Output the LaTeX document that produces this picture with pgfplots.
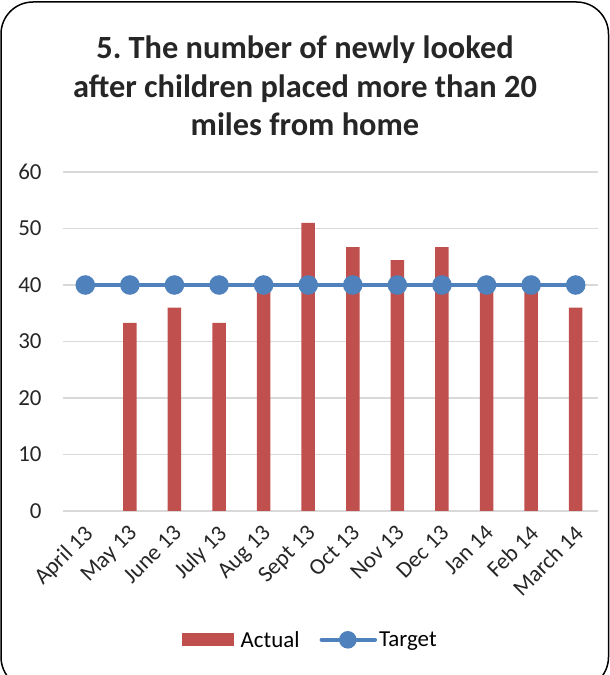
\documentclass[border=0pt]{standalone}
\usepackage{pgfplots}
\pgfplotsset{compat=1.18}
\usepackage{fontspec}
\setmainfont{Carlito}
\frenchspacing
\definecolor{barred}{HTML}{C0504D}
\definecolor{lineblue}{HTML}{4F81BD}
\definecolor{gridgray}{HTML}{D9D9D9}
\begin{document}
\begin{tikzpicture}
\path[use as bounding box] (0bp,0bp) rectangle (610bp,675bp);
\begin{scope}
\clip (0bp,0bp) rectangle (610bp,675bp);
\draw[line width=1.5bp, rounded corners=32bp] (1bp,-14bp) rectangle (608.5bp,673bp);
\end{scope}
\node[font=\bfseries\fontsize{32.5}{38.5}\selectfont, align=center, text=black!85] at (305bp,589bp) {5. The number of newly looked\\after children placed more than 20\\miles from home};
\begin{axis}[
  at={(63bp,164bp)}, anchor=south west,
  scale only axis, width=535bp, height=339bp,
  ymin=0, ymax=60, ytick={0,10,...,60},
  xmin=-0.5, xmax=11.5, xtick={0,...,11},
  xticklabels={April 13,May 13,June 13,July 13,Aug 13,Sept 13,Oct 13,Nov 13,Dec 13,Jan 14,Feb 14,March 14},
  /pgf/number format/assume math mode=true,
  ticklabel style={font=\fontsize{23}{25}\selectfont, text=black!85},
  x tick label style={rotate=45, anchor=north east, xshift=-9.5bp, yshift=-6bp, inner sep=1bp},
  y tick label style={xshift=-18bp},
  axis line style={draw=none},
  major tick length=0,
  ymajorgrids, grid style={draw=gridgray, line width=1.2bp},
  legend style={at={(0.462,-0.38)}, anchor=center, legend columns=2, draw=none, font=\fontsize{23}{25}\selectfont,
    /tikz/every even column/.style={column sep=18bp}, nodes={inner sep=2bp}},
  legend cell align=left,
]
\addplot[ybar, bar width=13.5bp, fill=barred, draw=none,
  legend image code/.code={\fill[barred] (0,-6.5bp) rectangle (52bp,6.5bp); \path (57bp,0);}]
  coordinates {(1,33.3) (2,36) (3,33.3) (4,40) (5,51) (6,46.7) (7,44.4) (8,46.7) (9,40) (10,38.9) (11,36)};
\addlegendentry{Actual}
\addplot[lineblue, line width=4.5bp, mark=*, mark size=7.5bp, mark options={fill=lineblue, draw=none},
  legend image code/.code={\draw[lineblue, line width=4.5bp, line cap=round] (2bp,0) -- (55bp,0); \fill[lineblue] (28bp,0) circle (6.5bp);}]
  coordinates {(0,40) (1,40) (2,40) (3,40) (4,40) (5,40) (6,40) (7,40) (8,40) (9,40) (10,40) (11,40)};
\addlegendentry{Target}
\end{axis}
\end{tikzpicture}
\end{document}
